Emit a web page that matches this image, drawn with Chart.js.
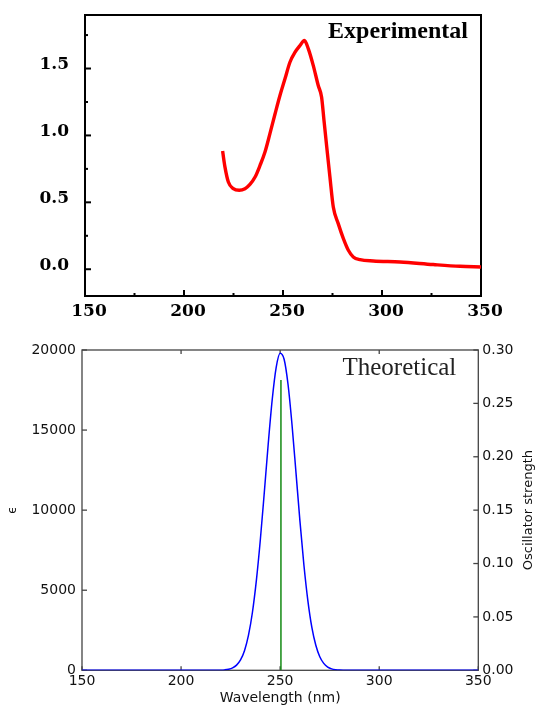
<!DOCTYPE html>
<html>
<head>
<meta charset="utf-8">
<script src="https://cdn.jsdelivr.net/npm/chart.js@4.4.1/dist/chart.umd.min.js"></script>
<style>
  body { margin: 0; background: #fff; }
  #top { position: absolute; left: 0; top: 0; width: 537px; height: 330px; }
  #bottom { position: absolute; left: 0; top: 330px; width: 537px; height: 377px; }
</style>
</head>
<body>
<div id="top"><canvas id="expChart"></canvas></div>
<div id="bottom"><canvas id="theoChart"></canvas></div>
<script>
// Experimental spectrum
var expWavelength = [219.5, 220.7, 222.4, 224.9, 227.9, 230.8, 233.3, 235.9, 238.4, 240.9, 243.4, 246.0,
  248.5, 251.0, 253.5, 256.1, 258.6, 260.8, 262.8, 265.3, 267.8, 269.5, 270.7, 272.1, 273.7, 275.4,
  277.9, 280.5, 283.0, 285.5, 288.9, 295.6, 309.1, 325.9, 339.4, 350];
var expAbs = [0.883, 0.763, 0.652, 0.602, 0.590, 0.602, 0.634, 0.689, 0.776, 0.876, 1.013, 1.162,
  1.300, 1.423, 1.547, 1.622, 1.672, 1.709, 1.647, 1.522, 1.373, 1.286, 1.112, 0.913, 0.689, 0.465,
  0.341, 0.229, 0.142, 0.092, 0.072, 0.062, 0.054, 0.035, 0.022, 0.017];

// Theoretical spectrum
var thWavelength = [150, 200, 216, 220, 222, 224, 226, 228, 230, 232, 234, 236, 238, 240, 242, 244, 246,
  248, 250, 252, 254, 256, 258, 260, 262, 264, 266, 268, 270, 272, 274, 276, 278, 280, 284, 300, 350];
var thEps = [0, 0, 1, 10, 26, 64, 149, 322, 649, 1226, 2180, 3610, 5610, 8150, 11100, 14160, 16910,
  18920, 19800, 19420, 17830, 15320, 12330, 9300, 6560, 4340, 2680, 1560, 845, 430, 204, 91, 38, 15, 2, 0, 0];

// Oscillator strength stick
var stickWavelength = [250.4, 250.4];
var stickStrength = [0, 0.272];

// Tick values
var xTicks = [150, 200, 250, 300, 350];
var xMinor = [175, 225, 275, 325];
var expYTicks = [0, 0.5, 1.0, 1.5];
var expYMinor = [0.25, 0.75, 1.25, 1.75];
var thXTopTicks = [200, 250, 300];
var epsTicks = [0, 5000, 10000, 15000, 20000];
var oscTicks = [0, 0.05, 0.10, 0.15, 0.20, 0.25, 0.30];

function pts(xs, ys) {
  return xs.map(function(x, i) { return { x: x, y: ys[i] }; });
}
function setTicks(values) {
  return function(scale) { scale.ticks = values.map(function(v) { return { value: v }; }); };
}
function fitSize(prop, size) {
  return function(s) {
    s[prop] = size;
    s.paddingTop = 0; s.paddingBottom = 0;
    s.paddingLeft = 0; s.paddingRight = 0;
  };
}

// frame box + inward tick marks
var frameTicks = {
  id: 'frameTicks',
  beforeDatasetsDraw: function(chart, args, opts) {
    var ctx = chart.ctx, a = chart.chartArea;
    ctx.save();
    ctx.strokeStyle = opts.color;
    ctx.lineWidth = opts.width;
    ctx.strokeRect(a.left, a.top, a.right - a.left, a.bottom - a.top);
    opts.marks.forEach(function(m) {
      var s = chart.scales[m.scale];
      m.values.forEach(function(v) {
        var p = s.getPixelForValue(v);
        ctx.beginPath();
        if (m.side === 'bottom') { ctx.moveTo(p, a.bottom); ctx.lineTo(p, a.bottom - m.len); }
        if (m.side === 'top') { ctx.moveTo(p, a.top); ctx.lineTo(p, a.top + m.len); }
        if (m.side === 'left') { ctx.moveTo(a.left, p); ctx.lineTo(a.left + m.len, p); }
        if (m.side === 'right') { ctx.moveTo(a.right, p); ctx.lineTo(a.right - m.len, p); }
        ctx.stroke();
      });
    });
    ctx.restore();
  }
};

// free texts placed relative to the chart area
var notes = {
  id: 'notes',
  afterDraw: function(chart, args, opts) {
    var ctx = chart.ctx, a = chart.chartArea;
    opts.items.forEach(function(t) {
      ctx.save();
      ctx.font = t.font;
      ctx.fillStyle = t.color;
      ctx.textAlign = t.align;
      ctx.textBaseline = t.baseline;
      var y = t.middle ? (a.top + a.bottom) / 2 : a.top + t.dy;
      ctx.translate(a.right + t.dx, y);
      if (t.rotate) ctx.rotate(t.rotate);
      ctx.fillText(t.text, 0, 0);
      ctx.restore();
    });
  }
};

var serifTick = { family: '"DejaVu Serif"', size: 17, weight: 'bold' };

new Chart(document.getElementById('expChart'), {
  type: 'line',
  data: {
    datasets: [{
      data: pts(expWavelength, expAbs),
      borderColor: '#ff0000',
      borderWidth: 3.4,
      pointRadius: 0,
      cubicInterpolationMode: 'monotone'
    }]
  },
  options: {
    responsive: true,
    maintainAspectRatio: false,
    animation: false,
    layout: { padding: { top: 15, right: 56, left: 0, bottom: 0 } },
    plugins: {
      legend: { display: false },
      tooltip: { enabled: false },
      frameTicks: {
        color: '#000', width: 2,
        marks: [
          { scale: 'x', side: 'bottom', values: xTicks, len: 6 },
          { scale: 'x', side: 'bottom', values: xMinor, len: 3 },
          { scale: 'y', side: 'left', values: expYTicks, len: 6 },
          { scale: 'y', side: 'left', values: expYMinor, len: 3 }
        ]
      },
      notes: {
        items: [{ text: 'Experimental', font: 'bold 24px "Liberation Serif"', color: '#000',
          align: 'right', baseline: 'alphabetic', dx: -13, dy: 22.6 }]
      }
    },
    scales: {
      x: {
        type: 'linear', min: 150, max: 350,
        afterBuildTicks: setTicks(xTicks),
        afterFit: fitSize('height', 34),
        grid: { display: false, drawTicks: false },
        border: { display: false },
        ticks: { font: serifTick, color: '#000', padding: 5, maxRotation: 0, labelOffset: 4 }
      },
      y: {
        type: 'linear', min: -0.2, max: 1.9,
        afterBuildTicks: setTicks(expYTicks),
        afterFit: fitSize('width', 85),
        grid: { display: false, drawTicks: false },
        border: { display: false },
        ticks: { font: serifTick, color: '#000', padding: 16, labelOffset: -4,
          callback: function(v) { return v.toFixed(1); } }
      }
    }
  },
  plugins: [frameTicks, notes]
});

var sansTick = { family: '"DejaVu Sans"', size: 14 };

new Chart(document.getElementById('theoChart'), {
  type: 'line',
  data: {
    datasets: [{
      data: pts(thWavelength, thEps),
      yAxisID: 'y',
      borderColor: '#0000ff',
      borderWidth: 1.5,
      pointRadius: 0,
      cubicInterpolationMode: 'monotone'
    }, {
      data: pts(stickWavelength, stickStrength),
      yAxisID: 'y2',
      borderColor: '#138a13',
      borderWidth: 1.5,
      pointRadius: 0
    }]
  },
  options: {
    responsive: true,
    maintainAspectRatio: false,
    animation: false,
    layout: { padding: { top: 20, right: 0, left: 0, bottom: 0 } },
    plugins: {
      legend: { display: false },
      tooltip: { enabled: false },
      frameTicks: {
        color: '#444', width: 1.3,
        marks: [
          { scale: 'x', side: 'bottom', values: xTicks, len: 4 },
          { scale: 'x', side: 'top', values: thXTopTicks, len: 4 },
          { scale: 'y', side: 'left', values: epsTicks, len: 5 },
          { scale: 'y2', side: 'right', values: oscTicks, len: 5 }
        ]
      },
      notes: {
        items: [
          { text: 'Theoretical', font: '25px "Liberation Serif"', color: '#222',
            align: 'right', baseline: 'alphabetic', dx: -22, dy: 25 },
          { text: 'Oscillator strength', font: '13px "DejaVu Sans"', color: '#111',
            align: 'center', baseline: 'middle', dx: 50, middle: true, rotate: -Math.PI / 2 }
        ]
      }
    },
    scales: {
      x: {
        type: 'linear', min: 150, max: 350,
        afterBuildTicks: setTicks(xTicks),
        afterFit: fitSize('height', 36.7),
        grid: { display: false, drawTicks: false },
        border: { display: false },
        ticks: { font: sansTick, color: '#111', padding: 3, maxRotation: 0 },
        title: { display: true, text: 'Wavelength (nm)', color: '#111',
          font: { family: '"DejaVu Sans"', size: 14 }, padding: 0 }
      },
      y: {
        type: 'linear', position: 'left', min: 0, max: 20000,
        afterBuildTicks: setTicks(epsTicks),
        afterFit: fitSize('width', 82),
        grid: { display: false, drawTicks: false },
        border: { display: false },
        ticks: { font: sansTick, color: '#111', padding: 6,
          callback: function(v) { return String(v); } },
        title: { display: true, text: 'ϵ', color: '#111',
          font: { family: '"DejaVu Sans"', size: 12 }, padding: { top: 6 } }
      },
      y2: {
        type: 'linear', position: 'right', min: 0, max: 0.3,
        afterBuildTicks: setTicks(oscTicks),
        afterFit: fitSize('width', 58.7),
        grid: { display: false, drawTicks: false },
        border: { display: false },
        ticks: { font: sansTick, color: '#111', padding: 4,
          callback: function(v) { return v.toFixed(2); } }
      }
    }
  },
  plugins: [frameTicks, notes]
});
</script>
</body>
</html>
